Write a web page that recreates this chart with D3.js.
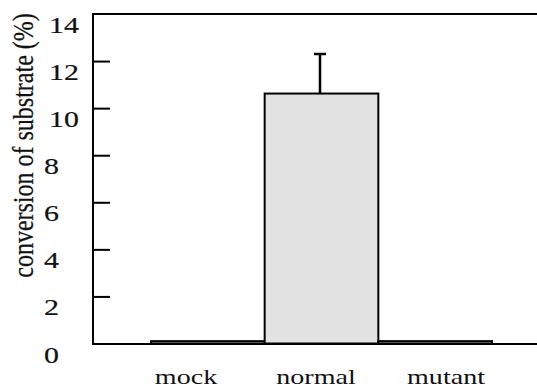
<!DOCTYPE html>
<html><head><meta charset="utf-8">
<script src="https://cdn.jsdelivr.net/npm/d3@7"></script>
<style>
body{margin:0;background:#fff;}
text{font-family:"Liberation Serif","Times New Roman",serif;fill:#111;}
</style></head>
<body><svg id="c" width="537" height="389"></svg>
<script>
const categories = ["mock","normal","mutant"];
const values = [0.1, 10.62, 0.1];
const errors = [0, 1.68, 0];
const yTicks = [0,2,4,6,8,10,12,14];
const yTitle = "conversion of substrate (%)";

const SX = 1.37;
const svg = d3.select("#c");
const y = d3.scaleLinear().domain([0,14]).range([343.5,14]);
const x = d3.scaleBand().domain(categories).range([151,492]).paddingInner(0);
const xl = d3.scaleBand().domain(categories).range([121,511]);

// frame
svg.append("path").attr("d","M537,14H93V344H537").attr("fill","none").attr("stroke","#000").attr("stroke-width",2);

// ticks (inward)
const yAxis = d3.axisRight(y).tickValues(yTicks.slice(1,-1)).tickSize(17).tickFormat("");
const ga = svg.append("g").attr("transform","translate(93,0)").call(yAxis);
ga.select(".domain").remove();
ga.selectAll(".tick line").attr("stroke","#000").attr("stroke-width",2);

// tick labels
svg.selectAll(".ylab").data(yTicks).join("text").attr("class","ylab")
  .attr("transform",d=>`translate(${d>=10?49:44},${y(d)+19}) scale(${SX*0.95},1)`)
  .attr("font-size",23).attr("stroke","#111").attr("stroke-width",0.2).text(d=>d);

// bars
svg.selectAll(".bar").data(categories).join("rect").attr("class","bar")
  .attr("x",d=>x(d)).attr("width",x.bandwidth())
  .attr("y",(d,i)=>y(values[i])).attr("height",(d,i)=>y(0)-y(values[i]))
  .attr("fill","#e2e2e2").attr("stroke","#000").attr("stroke-width",2);

// error bars
categories.forEach((c,i)=>{
  if(!errors[i]) return;
  const cx = x(c)+x.bandwidth()/2-1.5;
  svg.append("line").attr("x1",cx).attr("x2",cx).attr("y1",y(values[i])).attr("y2",y(values[i]+errors[i]))
    .attr("stroke","#000").attr("stroke-width",2.5);
  svg.append("line").attr("x1",cx-6).attr("x2",cx+6).attr("y1",y(values[i]+errors[i])).attr("y2",y(values[i]+errors[i]))
    .attr("stroke","#000").attr("stroke-width",2.5);
});

// category labels
svg.selectAll(".xlab").data(categories).join("text").attr("class","xlab")
  .attr("transform",d=>`translate(${xl(d)+xl.bandwidth()/2},384) scale(${SX},1)`)
  .attr("text-anchor","middle").attr("font-size",20.5).text(d=>d);

// y title
svg.append("text").attr("transform",`translate(33,145.5) scale(1.25,1) rotate(-90)`)
  .attr("text-anchor","middle").attr("font-size",24).attr("stroke","#111").attr("stroke-width",0.2).text(yTitle);
</script></body></html>
